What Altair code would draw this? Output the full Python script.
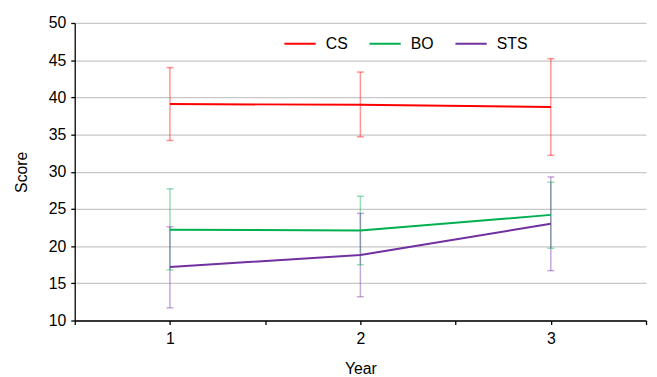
import altair as alt
import pandas as pd

years = [1, 2, 3]
series = ["CS", "BO", "STS"]

cs_mean = [39.1, 39.0, 38.7]
cs_low = [34.2, 34.7, 32.2]
cs_high = [44.0, 43.4, 45.2]

bo_mean = [22.2, 22.1, 24.2]
bo_low = [16.8, 17.5, 19.7]
bo_high = [27.7, 26.7, 28.6]

sts_mean = [17.2, 18.8, 23.0]
sts_low = [11.7, 13.2, 16.7]
sts_high = [22.6, 24.4, 29.3]

line_colors = ["#ff0000", "#00b050", "#7030a0"]
x_ticks = [0.5, 1, 1.5, 2, 2.5, 3, 3.5]
y_ticks = [10, 15, 20, 25, 30, 35, 40, 45, 50]

rows = []
for name, m, lo, hi in [
    ("CS", cs_mean, cs_low, cs_high),
    ("BO", bo_mean, bo_low, bo_high),
    ("STS", sts_mean, sts_low, sts_high),
]:
    for yr, a, b, c in zip(years, m, lo, hi):
        rows.append({"Year": yr, "Series": name, "Score": a, "Low": b, "High": c})
df = pd.DataFrame(rows)

FONT = "Liberation Sans"

x_enc = alt.X(
    "Year:Q",
    scale=alt.Scale(domain=[0.5, 3.5], nice=False, zero=False),
    axis=alt.Axis(
        values=x_ticks,
        labelExpr="datum.value % 1 == 0 ? format(datum.value, 'd') : ''",
        grid=False,
        tickSize=4,
        labelPadding=6,
        title="Year",
        titlePadding=15,
    ),
)
y_scale = alt.Scale(domain=[10, 50], nice=False, zero=False)
y_axis = alt.Axis(
    values=y_ticks,
    grid=True,
    tickSize=4,
    labelPadding=5,
    title="Score",
    titlePadding=19,
)
legend = alt.Legend(
    title=None,
    orient="none",
    legendX=211,
    legendY=4,
    direction="horizontal",
    symbolType="stroke",
    symbolSize=1000,
    symbolStrokeWidth=2,
    symbolOpacity=1,
    labelFontSize=16,
    labelOffset=9,
    columnPadding=17,
    labelColor="#000000",
    labelFont=FONT,
)
color_enc = alt.Color("Series:N", scale=alt.Scale(domain=series, range=line_colors), sort=series, legend=legend)

base = alt.Chart(df)

bars = base.mark_rule(strokeWidth=1.5, opacity=0.42).encode(
    x=x_enc,
    y=alt.Y("Low:Q", scale=y_scale, axis=y_axis),
    y2="High:Q",
    color=color_enc,
)

caps_lo = base.mark_tick(orient="horizontal", size=7, thickness=1.5, opacity=0.42).encode(
    x=x_enc,
    y=alt.Y("Low:Q", scale=y_scale, axis=y_axis),
    color=color_enc,
)
caps_hi = base.mark_tick(orient="horizontal", size=7, thickness=1.5, opacity=0.42).encode(
    x=x_enc,
    y=alt.Y("High:Q", scale=y_scale, axis=y_axis),
    color=color_enc,
)

lines = base.mark_line(strokeWidth=2).encode(
    x=x_enc,
    y=alt.Y("Score:Q", scale=y_scale, axis=y_axis),
    color=color_enc,
)

chart = (
    alt.layer(bars, caps_lo, caps_hi, lines)
    .properties(
        width=578,
        height=301,
        autosize=alt.AutoSizeParams(type="none"),
        padding={"left": 67.5, "top": 13, "right": 3, "bottom": 55},
    )
    .configure_view(stroke=None)
    .configure_axis(
        labelFont=FONT,
        titleFont=FONT,
        labelFontSize=16,
        titleFontSize=16,
        titleFontWeight="normal",
        labelColor="#000000",
        titleColor="#000000",
        domainColor="#000000",
        tickColor="#000000",
        domainWidth=1.3,
        tickWidth=1.3,
        gridColor="#c8c8c8",
        gridWidth=1.3,
    )
)

chart.save("out.html", embed_options={"renderer": "svg", "actions": False})
